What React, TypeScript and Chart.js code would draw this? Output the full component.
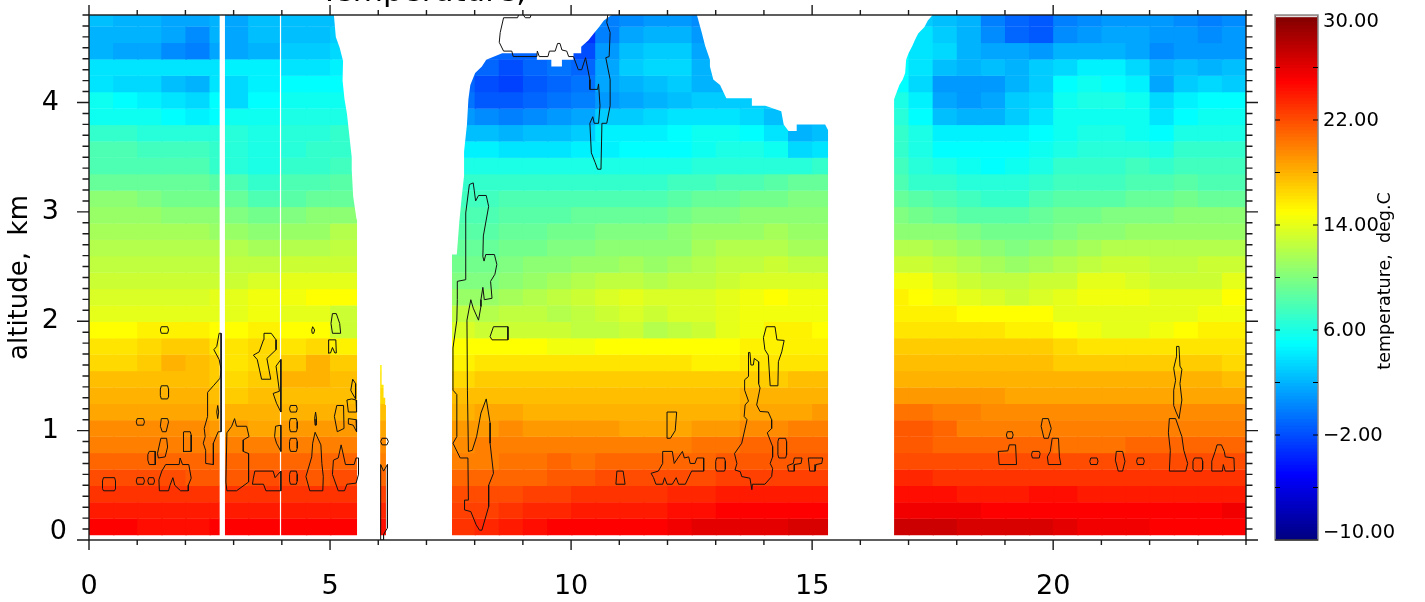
import React, { useEffect, useRef } from "react";
import { Chart, registerables } from "chart.js";

Chart.register(...registerables);

const FONT = "'DejaVu Sans'";
const X_MAX = 24;
const Y_MAX = 4.8;
const rowHeight = 0.15;
const rowCentres = Array.from({ length: 32 }, (_, k) => 0.12 + k * rowHeight);

const colsA = [[0,.5],[.5,1],[1,1.5],[1.5,2],[2,2.5],[2.5,2.71],[2.82,3.3],[3.3,3.96],[3.985,4.5],[4.5,5],[5,5.56]];
const colsB = [[6.04,6.16]];
const colsC = [[7.53,8],[8,8.5],[8.5,9],[9,9.5],[9.5,10],[10,10.5],[10.5,11],[11,11.5],[11.5,12],[12,12.5],[12.5,13],[13,13.5],[13.5,14],[14,14.5],[14.5,15],[15,15.33]];
const colsD = [[16.7,17],[17,17.5],[17.5,18],[18,18.5],[18.5,19],[19,19.5],[19.5,20],[20,20.5],[20.5,21],[21,21.5],[21.5,22],[22,22.5],[22.5,23],[23,23.5],[23.5,24]];

// temperature (deg C), one line per altitude row, bottom row first
const tempsA = [
[25,25,24.5,24.5,24.5,25,25,25,25,25,25],
[24,24,24,24,24,24,24,24,24,24,24],
[23,23,23,23,23,23,23,23,23,23,23],
[22,22,22,22,21.5,21.5,21.5,22,22,21.5,22],
[21,21,21,21,21,21,21,21,21,21,21],
[20,20,20,20,20,20,20,20,20,20,20],
[19.5,19.5,19.5,19.5,19.5,19,19,18.5,19,19,19],
[18.5,18.5,18.5,18.5,18.5,18,18,18,18,18,18],
[18,18,18,18,18,17.5,17,17.5,17.5,17.5,17.5],
[17.5,17.5,17.5,17.5,17.5,17,16.5,17,18,18,17.5],
[16.5,16.5,17,18,17.5,17,16,16.5,17,18,17],
[16,16,16.5,17,17,16,16,16.5,16,16.5,15.5],
[15,15,15.5,15.5,15.5,15,15,15.5,15,15,13],
[14,14,14,14,14,14,14,14.5,14,14,13],
[13.5,13.5,13.5,13.5,13.5,14,14,14.5,14.5,15,15],
[13,13,13,13,13,13,13,13.5,14,14,14],
[12.5,12.5,12.5,12.5,12.5,12.5,12.5,12.5,13,13,13],
[12,12,12,12,12,12,12,11.5,12,12,12.5],
[11.5,11.5,11.5,11.5,11.5,11,11,10.5,11,11,12],
[11,11,11,10.5,10.5,10.5,10,9.5,10,10.5,10.5],
[10.5,10.5,10,9.5,9.5,9.5,9,8,8.5,9,9],
[9,9,9,9,9,8.5,8,7,8,8,8.5],
[8,8,8,8,8,7,6.5,6,7,7,7.5],
[8,8,7.5,7.5,7.5,7,6.5,6,6.5,7,7],
[7,7,6.5,6.5,6.5,6.5,6.5,6,6.5,6.5,7],
[5.5,5.5,5.5,5,4.5,5,5.5,5.5,6,6,6],
[5.5,5,4.5,4,3.5,5,3.5,5,5.5,5.5,5.5],
[4,3.5,3.5,2.5,2,4,3.5,4.5,5,5,5],
[4,4,4,4,4,4,4.5,4.5,4,4,4.5],
[2,1.5,1.5,.5,0,1.5,1.5,2,3,3,3.5],
[2,2,2,1.5,.5,2,1.5,2.5,2.5,2.5,3],
[2.5,2,2,1.5,1.5,2,1.5,2.5,2.5,2.5,2.5],
];
const tempsB = [[24.5],[23.5],[22.5],[21],[20],[19.5],[18.5],[17.5],[16.5],[16],[15.5]];
const tempsC = [
[23,23.5,24,24.5,25,25,25,25,25,25.5,26,26,26,26,26.5,26.5],
[22.5,22.5,23,23.5,23.5,24,24,24,24,24.5,24.5,25,25,25,25,25],
[22,22,22,22.5,22.5,23,23,23,23,23.5,23.5,24,24,24,24,24],
[21,21,21,21,21.5,21.5,22,22,22,22,22,22.5,22.5,22.5,22.5,22.5],
[20,20,20.5,20.5,21,20.5,21,21,21,21,21,21.5,21.5,21.5,21.5,21.5],
[19.5,20,20,20,20,20,20,20,20,20,20.5,20.5,21,21,21,21],
[19,19,19.5,19,19,19,19,18.5,18.5,18.5,19,19,19.5,19.5,20,20],
[18,18.5,18.5,18,18,18,18,18,18,18,18,18,18.5,18.5,18.5,19],
[17.5,17.5,17.5,17.5,17.5,17.5,17.5,17.5,17.5,17.5,17.5,17.5,18,18,18,18],
[16.5,17,17,17,17,17,17,17,17,17,17,17,17,17,17.5,17.5],
[15.5,16,16,16,16,16,16,16,16,16,15.5,15.5,16,16,16,16],
[15,15,15,15,14.5,14.5,15,15,15,15,15,15,15.5,15.5,15.5,15.5],
[13.5,13,13,13,13,12.5,12.5,13,12,12.5,13,14,14.5,15.5,15.5,15],
[12.5,12,12.5,12.5,12,12.5,13,13.5,13,13.5,13.5,14,14.5,14.5,14.5,14.5],
[11,11,11.5,12,12.5,13,13.5,14,13.5,13.5,13.5,14,14.5,15,14.5,14.5],
[10,10,10.5,11,11.5,12,12.5,12.5,12,12.5,12.5,13,13.5,13.5,13.5,13.5],
[9.5,9.5,10,10.5,10.5,11,11,11.5,11,11.5,12,12.5,12.5,13,12.5,12.5],
[9,9,9.5,9.5,10,10,10.5,10.5,10.5,10.5,11.5,12,12,12,11.5,11.5],
[8.5,8.5,9,9,9.5,9.5,10,10,10,10.5,11,11,11,11.5,11,11],
[8,8,8.5,8.5,8.5,9,9,9,9,9.5,10,10,10.5,10.5,10.5,10.5],
[7.5,7.5,8,8,8,8,8,8,8,8.5,9,9,9.5,9.5,10,10],
[7,7,7,7,7,7,7,7,7,7.5,7.5,8,8,8.5,9,9],
[6,6,6,6,6,6,6,6,6,6,6.5,6.5,6.5,6.5,6.5,7],
[4.5,4.5,4,4,4,4.5,4.5,5,5,5,5.5,6,6,5.5,3.5,4],
[2.5,2.5,2,2.5,2.5,3,4.5,4.5,4.5,5,5.5,5.5,5,4,2,2.5],
[1,.5,0,.5,1,1.5,3,3,3.5,4,4,4,3.5,2.5,2,2],
[-.5,-1.5,-1.5,-1,-.5,0,1,1.5,2,2.5,3,3,3,3,3,3],
[-1,-2,-2.5,-1.5,-1,-.5,1.5,2,2.5,3,2,2,2,2,2,2],
[-1,-1,-2,-1,-.5,-1,1.5,3,3.5,3.5,2,2,2,2,2,2],
[-1,-1,-1,-1,-1,-2,1,2.5,3,3,1.5,1.5,1.5,1.5,1.5,1.5],
[-1,-1,-1,-1,-2,-3,0,1.5,2,2,1,1,1,1,1,1],
[-1,-1,-1,-1,-2,-3,0,.5,1,1,.5,.5,.5,.5,.5,.5],
];
const tempsD = [
[27,27,27,26.5,26.5,26.5,26.5,26,25.5,25.5,25.5,25,25,25,25],
[25.5,25.5,25.5,25.5,25,25,25,25,25,25,25,25,25,25,25.5],
[24.5,24.5,24.5,24,24,24,24.5,24.5,24,24,24,24,24,24,24],
[23.5,23.5,23,23,23,23,23,23,23,23,23,23,23,23,23],
[22,22,22,22,22,22,22,22,22,22,22,22,22,22,22],
[21.5,21.5,21,21,21,21,21,20.5,20.5,20.5,21,21,21,21,21],
[21.5,21.5,21,20,20,20,20,20,20,20,20,20,20,20,20],
[20.5,20.5,20,20,19.5,19.5,19.5,19.5,19.5,19.5,19.5,19.5,19.5,19.5,19.5],
[19,19,19,19,19,18.5,18.5,18.5,18.5,18.5,18.5,18.5,18.5,18.5,18.5],
[18,18,18,18,18,18,18,18,18,18,18,18,18,18,17.5],
[17.5,17.5,17.5,17.5,17.5,17.5,17.5,17,17,17,17,17,17,17,16.5],
[17,17,17,17,17,17,17,16.5,16,16,16,16,16,16,16],
[16,16,16,16,16,15.5,15.5,15,14.5,14,14,14.5,15,15.5,15.5],
[15.5,15.5,15.5,15,15,15,15,14,14,14,14,14,14,14.5,14.5],
[15.5,15,14.5,14,13.5,13,13.5,14,14.5,14.5,14.5,14,14,14,15],
[14.5,14.5,13.5,13,12.5,12.5,13,13,14,14,13.5,13,13,13,14],
[13,13,12.5,12,11.5,11,11.5,12,12.5,13,13,12.5,12.5,13,13],
[12,12,11.5,11,10.5,10,10.5,11,11.5,12,12,12,12,12,12],
[10.5,10.5,10.5,10,9.5,9.5,9.5,10,10.5,10.5,11,11,11,11,11],
[10,9.5,9,8.5,8.5,8.5,9,9.5,9.5,10,10,10,10.5,10.5,10.5],
[9,8.5,8,7.5,7,7,8,8.5,8.5,8.5,9,9,9.5,9,9],
[8,7,7,6.5,6.5,6.5,7,7.5,7.5,7.5,8,8,8.5,8,8],
[7.5,6.5,6,5.5,5,5.5,6,7,7,7,7.5,7,7.5,7.5,7.5],
[7,6,5,5,5,5,5.5,6,6.5,6.5,6.5,6,7,7,7],
[7,6,4.5,4.5,4.5,4.5,5,5.5,6,6,5.5,5,6,6,6],
[6.5,5,2.5,2,2,3,4,5.5,5.5,5.5,5.5,4,5,5.5,5.5],
[6,4.5,1.5,1,1.5,3,3.5,5.5,6,6,5.5,3.5,4.5,5,5],
[5,3.5,1,1,1,2,3,5,5.5,5,4.5,1.5,3,3.5,3],
[5,4,2.5,2,2.5,2,3,3.5,4.5,4.5,3.5,2,2.5,2,2.5],
[5,4,3.5,2,1.5,1.5,1,2,2,2,1.5,.5,1,1,1],
[5,4,3,2,.5,-1,-1.5,.5,1,1.5,1.5,1,1,.5,1],
[5,3,2.5,2,0,-1,-1.5,0,.5,1,1,1,.5,0,.5],
];

// data ceilings: hour, km pairs; above them nothing was measured
const ceilingA = [5.08,4.8,5.12,4.6,5.2,4.5,5.27,4.38,5.26,4.2,5.3,4.03,5.35,3.9,5.41,3.66,5.45,3.5,5.45,3.38,5.48,3.14,5.55,2.93,5.62,2.93];
const ceilingB = [6.0,1.6,6.07,1.6,6.07,1.42,6.11,1.42,6.11,1.3,6.145,1.3,6.145,1.235,6.2,1.235];
const ceilingC = [7.48,2.61,7.63,2.61,7.68,2.9,7.73,3.13,7.78,3.33,7.78,3.55,7.84,3.8,7.87,4.03,7.91,4.16,8.01,4.27,8.15,4.33,8.24,4.39,8.57,4.45,9.29,4.45,9.29,4.39,9.59,4.39,9.59,4.33,9.81,4.33,9.81,4.39,10.05,4.39,10.05,4.45,10.21,4.45,10.21,4.51,10.36,4.57,10.47,4.63,10.58,4.69,10.68,4.75,10.84,4.8,12.61,4.8,12.71,4.64,12.78,4.52,12.88,4.39,12.88,4.33,12.95,4.21,13.09,4.16,13.22,4.04,13.75,4.04,13.75,3.97,14.03,3.97,14.36,3.92,14.41,3.8,14.51,3.74,14.68,3.74,14.68,3.8,15.27,3.8,15.34,3.74,15.4,3.74];
const ceilingD = [16.65,4.03,16.7,4.03,16.75,4.09,16.81,4.16,16.88,4.21,16.93,4.27,16.95,4.39,17.0,4.45,17.08,4.52,17.13,4.57,17.2,4.63,17.33,4.69,17.4,4.75,17.5,4.8];
const ceilings = [ceilingA, ceilingB, ceilingC, ceilingD];

// closed outlines, hour, km pairs
const outlines = [
[.3,.57,.53,.57,.55,.54,.55,.47,.53,.45,.3,.45,.28,.47,.28,.54],
[1,.57,1.13,.57,1.15,.54,1.13,.51,1,.51,.98,.54],
[1.24,.57,1.34,.57,1.36,.54,1.34,.51,1.24,.51,1.22,.54],
[1,1.11,1.13,1.11,1.15,1.08,1.13,1.05,1,1.05,.98,1.08],
[1.5,1.95,1.63,1.95,1.65,1.92,1.63,1.89,1.5,1.89,1.48,1.92],
[1.5,1.41,1.63,1.41,1.65,1.38,1.65,1.31,1.63,1.29,1.5,1.29,1.48,1.32,1.48,1.38],
[1.5,1.11,1.63,1.11,1.65,1.08,1.6,.99,1.52,.99,1.48,1.04],
[1.49,.93,1.61,.93,1.63,.85,1.58,.76,1.44,.75,1.42,.79],
[1.25,.81,1.37,.81,1.38,.7,1.37,.69,1.25,.69,1.22,.73,1.22,.78],
[1.97,.99,2.1,.99,2.12,.96,2.12,.81,1.95,.81,1.95,.96],
[1.59,.69,1.87,.69,1.89,.75,1.94,.69,2.07,.69,2.12,.565,2.06,.5,2.06,.45,1.9,.45,1.78,.5,1.74,.57,1.68,.5,1.65,.45,1.46,.45,1.45,.55,1.51,.63],
[2.7,1.89,2.74,1.89,2.74,.99,2.68,.99,2.58,.885,2.58,.69,2.42,.7,2.42,.82,2.37,.885,2.41,.945,2.39,1.02,2.46,1.13,2.46,1.35,2.58,1.41,2.72,1.48,2.74,1.56,2.7,1.65,2.59,1.74,2.65,1.77],
[2.67,1.23,2.69,1.17,2.67,1.11,2.65,1.17],
[2.86,.98,2.96,1.04,3.02,1.11,3.06,1.04,3.27,1.04,3.32,.945,3.2,.915,3.2,.81,3.31,.79,3.31,.53,3.06,.45,2.86,.45,2.84,.53],
[3.41,.565,3.44,.63,3.82,.63,3.86,.57,3.98,.63,3.98,.45,3.67,.45,3.62,.51,3.39,.51],
[3.87,1.04,3.98,1.05,3.98,.81,3.89,.885,3.85,.945],
[3.63,1.89,3.78,1.89,3.88,1.83,3.88,1.74,3.69,1.66,3.77,1.47,3.58,1.47,3.49,1.65,3.41,1.69,3.53,1.72,3.62,1.83],
[3.98,1.65,3.98,1.17,3.89,1.25,3.82,1.34,3.95,1.36,3.88,1.59],
[4.18,1.23,4.3,1.23,4.32,1.2,4.3,1.17,4.18,1.17,4.16,1.2],
[4.18,1.11,4.3,1.11,4.32,1.08,4.32,1.02,4.3,.99,4.18,.99,4.16,1.02,4.16,1.08],
[4.18,.93,4.3,.93,4.32,.9,4.32,.84,4.3,.81,4.18,.81,4.16,.84,4.16,.9],
[4.18,.63,4.3,.63,4.32,.6,4.32,.54,4.3,.51,4.18,.51,4.16,.54,4.16,.6],
[4.7,1.17,4.72,1.11,4.71,1.05,4.69,1.05,4.68,1.11],
[4.64,1.95,4.68,1.92,4.66,1.89,4.63,1.89,4.62,1.92],
[5.05,2.07,5.13,2.07,5.2,1.98,5.22,1.89,5.05,1.89,5.02,1.98],
[4.97,1.83,5.12,1.83,5.13,1.71,5.1,1.71,5.05,1.76,5.01,1.71,4.96,1.71],
[4.69,.985,4.81,.87,4.83,.7,4.86,.58,4.85,.45,4.58,.45,4.5,.58,4.62,.76,4.64,.885],
[5.23,.87,5.32,.69,5.5,.69,5.54,.75,5.59,.75,5.59,.6,5.54,.52,5.35,.51,5.3,.45,5.17,.45,5.05,.6,5.07,.73,5.17,.75],
[5.14,1.23,5.28,1.23,5.29,1.02,5.15,.99,5.09,1.13],
[5.35,1.28,5.45,1.29,5.54,1.28,5.55,1.17,5.38,1.17],
[5.38,1.11,5.54,1.1,5.55,.99,5.48,1.05,5.39,1.06],
[5.47,1.47,5.53,1.43,5.53,1.29,5.45,1.35,5.43,1.37],
[6.08,.93,6.18,.93,6.21,.9,6.18,.87,6.08,.87,6.05,.9],
[6.05,.69,6.11,.63,6.19,.69,6.19,.11,6.11,.05,6.11,0,6.05,0],
[7.64,2.197,7.64,2.365,7.815,2.38,7.815,2.99,7.89,3.25,7.97,3.265,8.02,3.1,8.08,3.15,8.24,3.15,8.29,3.05,8.18,2.78,8.17,2.59,8.195,2.55,8.23,2.61,8.41,2.61,8.46,2.52,8.42,2.43,8.33,2.365,8.36,2.21,8.2,2.197,8.17,2.31,8.13,2.197,8.13,2.135,8.08,2.01,7.97,2.12,7.92,2.197,7.84,2.01,7.85,1.37,7.87,.81,7.95,.82,8.04,.945,8.13,1.16,8.24,1.29,8.32,1.07,8.32,.885,8.39,.61,8.29,.5,8.29,.305,8.15,.09,8.1,.09,8.03,.14,7.92,.26,7.79,.275,7.79,.365,7.87,.365,7.86,.75,7.7,.75,7.55,.885,7.63,.945,7.63,1.33,7.55,1.37,7.55,1.755,7.63,2.01],
[8.39,1.95,8.69,1.95,8.69,1.83,8.36,1.83,8.32,1.86],
[10.95,.63,11.08,.63,11.12,.51,10.93,.51],
[11.99,1.17,12.19,1.17,12.16,1,12.06,.93,11.99,.93],
[11.9,.81,12.1,.81,12.14,.7,12.23,.76,12.31,.81,12.35,.75,12.44,.76,12.47,.7,12.57,.7,12.61,.75,12.75,.75,12.75,.63,12.5,.63,12.37,.51,12.23,.51,12.18,.57,12.1,.51,11.99,.51,11.94,.57,11.9,.51,11.76,.51,11.71,.57,11.66,.61,11.81,.63,11.9,.7],
[13.02,.75,13.18,.75,13.2,.72,13.2,.65,13.18,.63,13.02,.63,13,.65,13,.72],
[13.68,1.715,13.71,1.715,13.73,1.6,13.78,1.6,13.8,1.66,13.89,1.63,13.89,1.43,13.92,1.39,13.85,1.235,13.92,1.175,14.09,1.17,14.16,1.1,14.16,1.02,14.07,.98,14.18,.855,14.18,.76,14.13,.7,14.18,.655,14.16,.58,14.02,.51,13.76,.51,13.75,.46,13.71,.565,13.54,.58,13.51,.625,13.4,.64,13.44,.7,13.39,.79,13.54,.885,13.65,1.1,13.59,1.13,13.61,1.235,13.68,1.27,13.6,1.37,13.6,1.465,13.68,1.495],
[14.05,1.95,14.23,1.95,14.27,1.83,14.42,1.825,14.37,1.72,14.3,1.63,14.29,1.41,14.13,1.41,14.09,1.69,14.02,1.74,13.99,1.85],
[14.31,.93,14.45,.93,14.47,.9,14.47,.78,14.45,.75,14.31,.75,14.29,.78,14.29,.9],
[14.63,.75,14.79,.75,14.77,.7,14.63,.69,14.63,.63,14.51,.63,14.49,.68,14.61,.7],
[14.92,.75,15.22,.75,15.2,.7,15.08,.69,15.06,.63,14.95,.63],
[19.05,.99,19.15,.99,19.17,.96,19.15,.93,19.05,.93,19.03,.96],
[19.06,.815,19.09,.87,19.22,.87,19.24,.69,18.88,.69,18.86,.81],
[19.57,.81,19.71,.81,19.73,.79,19.71,.75,19.57,.75,19.55,.78],
[19.78,1.11,19.9,1.11,19.96,1.02,19.9,.93,19.81,.93,19.75,1.04],
[19.98,.93,20.11,.93,20.13,.76,20.16,.69,19.9,.69,19.88,.76,19.94,.81],
[20.78,.75,20.91,.75,20.93,.72,20.91,.69,20.78,.69,20.76,.72],
[21.31,.81,21.44,.81,21.49,.72,21.44,.63,21.35,.63,21.29,.73],
[21.75,.75,21.87,.75,21.89,.72,21.87,.69,21.75,.69,21.73,.72],
[22.56,1.77,22.61,1.77,22.63,1.59,22.67,1.56,22.63,1.43,22.67,1.28,22.61,1.11,22.55,1.17,22.5,1.23,22.5,1.37,22.54,1.46,22.5,1.57,22.56,1.68],
[22.41,1.11,22.54,1.11,22.67,.945,22.71,.82,22.79,.7,22.75,.63,22.41,.63,22.43,.82,22.39,.98],
[22.93,.75,23.08,.75,23.1,.72,23.1,.65,23.08,.63,22.93,.63,22.9,.65,22.9,.72],
[23.4,.87,23.49,.87,23.55,.81,23.57,.76,23.75,.75,23.76,.63,23.57,.63,23.53,.69,23.51,.63,23.29,.63,23.29,.72,23.36,.81],
];
// outlines that run out through the top of the plot
const openOutlines = [
[8.91,4.8,8.89,4.775,8.6,4.775,8.53,4.64,8.51,4.55,8.6,4.47,8.77,4.47,8.8,4.42,9.29,4.42,9.3,4.47,9.34,4.42,9.52,4.42,9.55,4.47,9.67,4.47,9.72,4.54,9.77,4.54,9.81,4.48,9.91,4.47,9.95,4.42,10.05,4.42,10.15,4.3,10.22,4.3,10.3,4.41,10.39,4.21,10.39,4.12,10.55,4.12,10.57,4.17,10.6,3.97,10.57,3.81,10.48,3.81,10.45,3.87,10.39,3.81,10.42,3.54,10.5,3.45,10.55,3.39,10.62,3.39,10.64,3.81,10.74,3.81,10.81,3.97,10.81,4.21,10.72,4.41,10.79,4.42,10.81,4.64,10.74,4.73,10.76,4.8],
[9.01,4.8,9.05,4.775,9.15,4.775,9.17,4.8],
];

const xMajorTicks = [0,5,10,15,20];
const xMinorTicks = [1,2,3,4,6,7,8,9,11,12,13,14,16,17,18,19,21,22,23,24];
const yMajorTicks = [0,1,2,3,4];
const yMinorCount = 48;
const colorbarTicks = [-10,-6,-2,2,6,10,14,18,22,26,30];
const colorbarLabels = [30,22,14,6,-2,-10];
const titleText = "Temperature,";

function jet(v: number) {
  const t = (v + 10) / 40;
  const c = (x: number) => Math.round(255 * Math.max(0, Math.min(1, x)));
  return `rgb(${c(Math.min(4*t-1.5,-4*t+4.5))},${c(Math.min(4*t-.5,-4*t+3.5))},${c(Math.min(4*t+.5,-4*t+2.5))})`;
}

function pairs(a: number[]) {
  const out: {x:number;y:number}[] = [];
  for (let i = 0; i < a.length; i += 2) out.push({ x: a[i], y: a[i+1] });
  return out;
}

function cellsDataset() {
  const data: any[] = []; const colors: string[] = [];
  const blocks: [number[][], number[][]][] = [[colsA,tempsA],[colsB,tempsB],[colsC,tempsC],[colsD,tempsD]];
  for (const [cols, temps] of blocks) {
    temps.forEach((row, k) => row.forEach((v, c) => {
      const next = cols[c + 1];
      const touches = next && next[0] === cols[c][1];
      data.push({ x: [cols[c][0], touches ? cols[c][1] + 0.03 : cols[c][1]], y: rowCentres[k] });
      colors.push(jet(v));
    }));
  }
  return { type:"bar", indexAxis:"y", data, backgroundColor: colors, borderWidth:0, barPercentage:1.02, categoryPercentage:1, grouped:false, order:3 };
}

const frameTicks = {
  id: "frameTicks",
  afterDraw(chart: any) {
    const { ctx, chartArea: a, scales: { x, y } } = chart;
    ctx.save();
    ctx.strokeStyle = "#1a1a1a"; ctx.lineWidth = 1.4;
    ctx.strokeRect(a.left, a.top, a.right - a.left, a.bottom - a.top);
    ctx.beginPath();
    const vt = (v: number, len: number) => { const p = x.getPixelForValue(v);
      ctx.moveTo(p, a.bottom); ctx.lineTo(p, a.bottom + len); ctx.moveTo(p, a.top); ctx.lineTo(p, a.top - len); };
    const ht = (v: number, len: number) => { const p = y.getPixelForValue(v);
      ctx.moveTo(a.left, p); ctx.lineTo(a.left - len, p); ctx.moveTo(a.right, p); ctx.lineTo(a.right + len, p); };
    xMajorTicks.forEach(v => vt(v, 10)); xMinorTicks.forEach(v => vt(v, 5));
    for (let i = 1; i <= yMinorCount; i++) if (i % 10) ht(i / 10, 6.5);
    yMajorTicks.forEach(v => ht(v, 12));
    ctx.stroke();
    ctx.fillStyle = "#000";
    ctx.font = `27px ${FONT}`; ctx.textAlign = "right"; ctx.textBaseline = "middle";
    ctx.fillText("0", 67, 532);
    ctx.font = `31px ${FONT}`; ctx.textAlign = "left"; ctx.textBaseline = "alphabetic";
    ctx.fillText(titleText, 320, 1);
    ctx.restore();
  },
};

const colorbarFrame = {
  id: "colorbarFrame",
  afterDraw(chart: any) {
    const { ctx, chartArea: a, scales: { y } } = chart;
    ctx.save();
    ctx.strokeStyle = "#8a8a8a"; ctx.lineWidth = 1.5;
    ctx.strokeRect(a.left, a.top, a.right - a.left, a.bottom - a.top);
    ctx.fillStyle = "#e4e4e4"; ctx.fillRect(a.left + 1, a.top + .7, a.right - a.left - 2, 1.5);
    ctx.strokeStyle = "#000"; ctx.lineWidth = 1;
    ctx.beginPath();
    ctx.moveTo(a.left, a.bottom); ctx.lineTo(a.right, a.bottom);
    colorbarTicks.slice(1, -1).forEach(v => { const p = y.getPixelForValue(v);
      ctx.moveTo(a.left, p); ctx.lineTo(a.left + 5, p); ctx.moveTo(a.right, p); ctx.lineTo(a.right - 5, p); });
    ctx.stroke();
    ctx.fillStyle = "#000"; ctx.font = `19.5px ${FONT}`; ctx.textBaseline = "middle"; ctx.textAlign = "left";
    colorbarLabels.forEach(v => {
      const p = y.getPixelForValue(v);
      const yy = v === 30 ? p + 7 : v === -10 ? p - 7 : p + 1;
      ctx.fillText((v < 0 ? "\u2212" : "") + Math.abs(v).toFixed(2), 58, yy);
    });
    ctx.translate(120, 281); ctx.rotate(-Math.PI / 2);
    ctx.font = `17.5px ${FONT}`; ctx.textAlign = "center";
    ctx.fillText("temperature,  deg.C", 0, 0);
    ctx.restore();
  },
};

export default function App() {
  const mainRef = useRef<HTMLCanvasElement>(null);
  const barRef = useRef<HTMLCanvasElement>(null);
  useEffect(() => {
    const masks = ceilings.map(c => ({ type:"line", data: pairs(c), borderWidth:0, pointRadius:0, tension:0, fill:"end", backgroundColor:"#fff", order:2 }));
    const closed = outlines.map(o => { const p = pairs(o); p.push(p[0]); return p; });
    const lines = [...closed, ...openOutlines.map(pairs)].map(p => ({ type:"line", data:p, borderColor:"#111", borderWidth:1, pointRadius:0, tension:0, fill:false, order:1 }));
    const main = new Chart(mainRef.current!, {
      type: "bar",
      data: { datasets: [cellsDataset(), ...masks, ...lines] as any },
      plugins: [frameTicks],
      options: {
        animation:false, responsive:false,
        layout:{ padding:{ top:15, right:19, left:0, bottom:0 } },
        plugins:{ legend:{display:false}, tooltip:{enabled:false}, title:{display:false} },
        scales:{
          x:{ type:"linear", min:0, max:X_MAX, offset:false, grid:{display:false}, border:{display:false},
              afterFit:(s:any)=>{ s.height = 62; s.paddingLeft = 0; s.paddingRight = 0; },
              ticks:{ stepSize:5, includeBounds:false, autoSkip:false, maxRotation:0, padding:23, color:"#000", font:{family:"DejaVu Sans",size:27} } },
          y:{ type:"linear", min:0, max:Y_MAX, offset:false, grid:{display:false}, border:{display:false},
              afterFit:(s:any)=>{ s.width = 89; s.paddingTop = 0; s.paddingBottom = 0; },
              title:{ display:true, text:"altitude,  km", color:"#000", font:{family:"DejaVu Sans",size:26}, padding:{top:5,bottom:0} },
              ticks:{ stepSize:1, includeBounds:false, autoSkip:false, padding:22, color:"#000", font:{family:"DejaVu Sans",size:27},
                      callback:(v:any)=> v===0 ? "" : String(v) } },
        },
      } as any,
    });
    const levels: number[] = [];
    for (let v = -9.875; v < 30; v += 0.25) levels.push(v);
    const bar = new Chart(barRef.current!, {
      type:"bar",
      data:{ datasets:[{ type:"bar", indexAxis:"y", data: levels.map(v=>({x:[0,1],y:v})), backgroundColor: levels.map(jet), borderWidth:0, barPercentage:1.6, grouped:false }] as any },
      plugins:[colorbarFrame],
      options:{
        animation:false, responsive:false,
        layout:{ padding:{ top:15, right:107, left:10, bottom:62 } },
        plugins:{ legend:{display:false}, tooltip:{enabled:false} },
        scales:{
          x:{ type:"linear", min:0, max:1, display:false, offset:false },
          y:{ type:"linear", min:-10, max:30, display:false, offset:false, ticks:{ stepSize:4 } },
        },
      } as any,
    });
    return () => { main.destroy(); bar.destroy(); };
  }, []);
  return (
    <div style={{ position:"absolute", left:0, top:0, width:1425, height:602, background:"#fff" }}>
      <canvas ref={mainRef} width={1265} height={602} style={{ position:"absolute", left:0, top:0 }} />
      <canvas ref={barRef} width={160} height={602} style={{ position:"absolute", left:1265, top:0 }} />
    </div>
  );
}
